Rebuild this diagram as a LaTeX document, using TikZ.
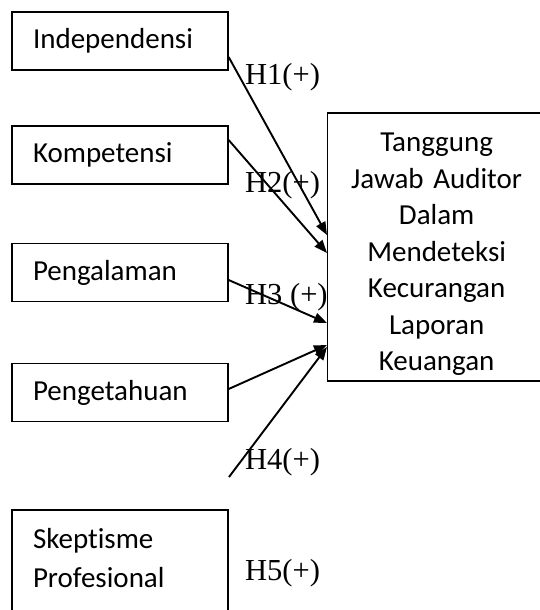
\documentclass[tikz,border=0pt]{standalone}
\usepackage{fontspec}
\setmainfont{Carlito}[Ligatures=NoCommon]
\newfontfamily\hfont{Liberation Serif}
\usetikzlibrary{arrows.meta,positioning}

\tikzset{
  varbox/.style={draw=black,line width=1.3pt,minimum width=216pt,minimum height=58pt,text width=174pt,inner xsep=21pt,align=left,font=\fontsize{29}{37}\selectfont},
  hlabel/.style={anchor=west,inner sep=0pt,font=\hfont\fontsize{30.5}{36}\selectfont},
  hyp/.style={-{Triangle[length=13pt,width=10pt]},line width=1.9pt}
}

\begin{document}
\begin{tikzpicture}[x=1pt,y=-1pt]
\useasboundingbox (0,0) rectangle (540,610);
\node[varbox] (ind) at (120,41) {Independensi};
\node[varbox] (kom) at (120,155) {Kompetensi};
\node[varbox] (pgl) at (120,272.5) {Pengalaman};
\node[varbox] (pgt) at (120,392.5) {Pengetahuan};
\node[varbox,minimum height=134pt] (skp) at (120,577) {Skeptisme\\[2pt]Profesional\\[2pt]\mbox{}};
% right box runs off the page, text kept centred on 436
\node[draw=black,line width=1.3pt,anchor=west,minimum height=268pt,text width=250pt,inner xsep=0pt,align=center,execute at begin node={\leftskip=0pt plus 1fil\rightskip=32pt plus 1fil\parfillskip=0pt},font=\fontsize{29}{36.5}\selectfont] (tjw) at (327,247) {\rule{0pt}{33pt}Tanggung\\Jawab Auditor\\Dalam\\Mendeteksi\\Kecurangan\\Laporan\\Keuangan};
% hypothesis labels
\node[hlabel] (h1) at (245,77) {H1(+)};
\node[hlabel] (h2) at (245,185) {H2(+)};
\node[hlabel] (h3) at (245,297) {H3 (+)};
\node[hlabel] (h4) at (245,462) {H4(+)};
\node[hlabel] (h5) at (245,573) {H5(+)};
\coordinate (h4s) at (229,477);
% arrows
\draw[hyp] ([yshift=-16pt]ind.east) -- ([yshift=12pt]tjw.west);
\draw[hyp] ([yshift=15pt]kom.east) -- ([yshift=-6pt]tjw.west);
\draw[hyp] ([yshift=-7.5pt]pgl.east) -- ([yshift=-76pt]tjw.west);
\draw[hyp] ([yshift=3.5pt]pgt.east) -- ([yshift=-98pt]tjw.west);
\draw[hyp] (h4s) -- ([yshift=-100pt]tjw.west);
\end{tikzpicture}
\end{document}
